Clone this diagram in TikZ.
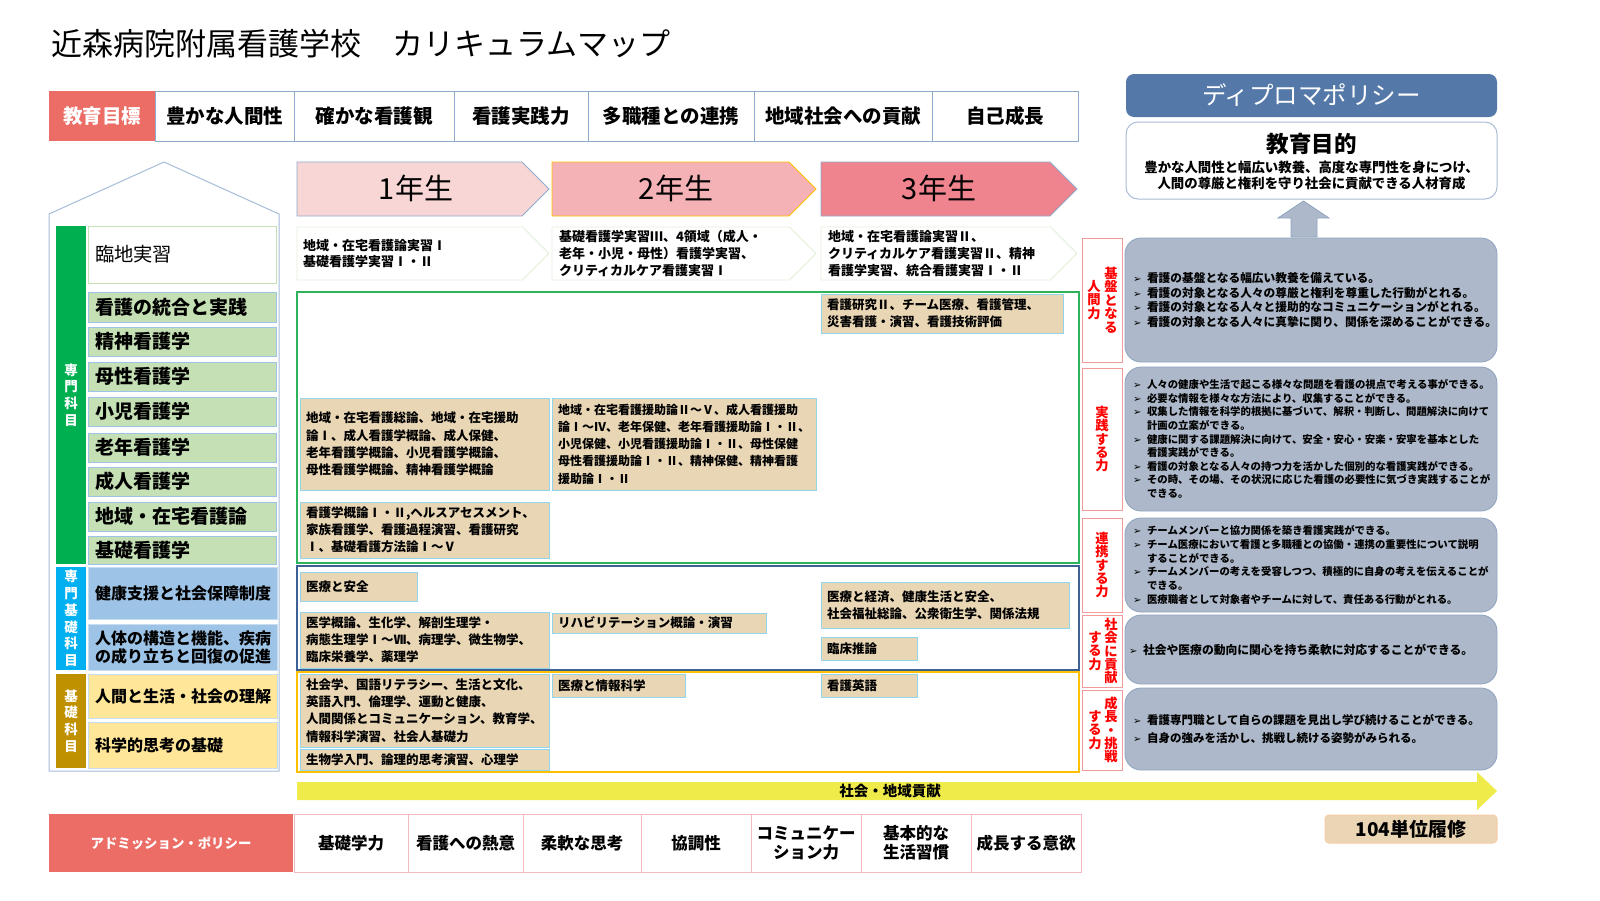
\documentclass[tikz,border=0pt]{standalone}
\usepackage{fontspec}
\setmainfont{Noto Sans CJK JP}
\newfontfamily\dvfont{DejaVu Sans}
\usetikzlibrary{fit,shapes.symbols}

\definecolor{goalred}{HTML}{EC6D66}
\definecolor{goalline}{HTML}{8FAACC}
\definecolor{dpblue}{HTML}{5479A9}
\definecolor{aimline}{HTML}{A9BCD6}
\definecolor{greyfill}{HTML}{ADB9CA}
\definecolor{greyline}{HTML}{8EA3BF}
\definecolor{houseline}{HTML}{A6BCD8}
\definecolor{catgreen}{HTML}{00B050}
\definecolor{catblue}{HTML}{00B0F0}
\definecolor{catgold}{HTML}{BF9000}
\definecolor{subjgreen}{HTML}{C5E0B4}
\definecolor{subjblue}{HTML}{9DC3E6}
\definecolor{subjyellow}{HTML}{FFE699}
\definecolor{subjline}{HTML}{9DC3E6}
\definecolor{subjline2}{HTML}{C9DDF1}
\definecolor{yonefill}{HTML}{F9D6D6}
\definecolor{ytwofill}{HTML}{F4B2B6}
\definecolor{ythreefill}{HTML}{EF848E}
\definecolor{yearline}{HTML}{8FAACC}
\definecolor{ytwoline}{HTML}{FFC000}
\definecolor{practline}{HTML}{E2EFDA}
\definecolor{frgreen}{HTML}{2DB35A}
\definecolor{frblue}{HTML}{3F6296}
\definecolor{frorange}{HTML}{FFC000}
\definecolor{tanfill}{HTML}{E8D6B4}
\definecolor{tanline}{HTML}{92D4EA}
\definecolor{labred}{HTML}{FF0000}
\definecolor{labline}{HTML}{F29B9B}
\definecolor{arrowyellow}{HTML}{EFEB4B}
\definecolor{admline}{HTML}{F4B9C0}
\definecolor{unitfill}{HTML}{EAD6B5}
\definecolor{unitline}{HTML}{F6CBA8}

\newcommand\fsz[2]{\fontsize{#1}{#2}\selectfont}
\newcommand\blt{\makebox[14pt][l]{\dvfont\fsz{10}{10}➢}}
\newcommand\contind{\hspace*{14pt}}

\begin{document}
\begin{tikzpicture}[x=1pt, y=-1pt,
	every node/.style={inner sep=0pt, outer sep=0pt},
	goalbox/.style={draw=goalline, fill=white, line width=0.8pt},
	goaltext/.style={font=\fsz{19.5}{22}\bfseries},
	redhead/.style={fill=goalred},
	whitetext/.style={text=white, font=\fsz{19.5}{22}\bfseries},
	cattext/.style={text=white, align=center, font=\fsz{13.5}{16.7}\bfseries},
	subj/.style={draw=subjline, fill=subjgreen, line width=0.8pt},
	subjs/.style={draw=subjline2, line width=0.8pt},
	subjtext/.style={anchor=west, align=left, font=\fsz{19}{22}\bfseries},
	subjstext/.style={anchor=west, align=left, font=\fsz{16}{18}\bfseries},
	yearbox/.style={signal, signal to=east, anchor=west, draw=yearline, line width=0.8pt, minimum height=54pt},
	yeartext/.style={font=\fsz{29}{32}},
	practbox/.style={signal, signal to=east, anchor=west, draw=practline, fill=white, line width=0.8pt, minimum height=53pt},
	practtext/.style={anchor=west, align=left, font=\fsz{13}{16.7}\bfseries},
	frame/.style={draw, line width=1.2pt},
	tan/.style={draw=tanline, fill=tanfill, line width=0.8pt},
	tantext/.style={anchor=west, align=left, font=\fsz{12.5}{17.2}\bfseries},
	labbox/.style={draw=labline, fill=white, line width=0.8pt},
	labtext/.style={text=labred, align=center, font=\fsz{13.3}{13.4}\bfseries},
	greybox/.style={draw=greyline, fill=greyfill, line width=0.8pt, rounded corners=16pt},
	greytext/.style={anchor=west, align=left},
	admbox/.style={draw=admline, fill=white, line width=0.8pt},
	admtext/.style={align=center, font=\fsz{16.5}{19.5}\bfseries},
]
	\useasboundingbox (0,0) rectangle (1600,900);

	% title
	\node[anchor=west, font=\fsz{31}{36}] (title) at (51,44) {近森病院附属看護学校　カリキュラムマップ};

	% educational goals
	\node[redhead, fit={(49,91) (155,141)}] (goal) {};
	\node[goalbox, fit={(155,91) (294,141)}] (goal1) {};
	\node[goalbox, fit={(294,91) (454,141)}] (goal2) {};
	\node[goalbox, fit={(454,91) (588,141)}] (goal3) {};
	\node[goalbox, fit={(588,91) (754,141)}] (goal4) {};
	\node[goalbox, fit={(754,91) (932,141)}] (goal5) {};
	\node[goalbox, fit={(932,91) (1078,141)}] (goal6) {};
	\node[whitetext] (goaltxt) at (goal.center) {教育目標};
	\node[goaltext] (goal1txt) at (goal1.center) {豊かな人間性};
	\node[goaltext] (goal2txt) at (goal2.center) {確かな看護観};
	\node[goaltext] (goal3txt) at (goal3.center) {看護実践力};
	\node[goaltext] (goal4txt) at (goal4.center) {多職種との連携};
	\node[goaltext] (goal5txt) at (goal5.center) {地域社会への貢献};
	\node[goaltext] (goal6txt) at (goal6.center) {自己成長};

	% diploma policy
	\node[fill=dpblue, rounded corners=8pt, fit={(1126,74) (1497,117)}] (dp) {};
	\node[text=white, font=\fsz{24.5}{28}] (dptxt) at (dp.center) {ディプロマポリシー};
	\node[draw=aimline, fill=white, line width=1pt, rounded corners=12pt, fit={(1126,122) (1497,199)}] (aim) {};
	\node[font=\fsz{22.5}{26}\bfseries] (aimhead) at (1311.5,144) {教育目的};
	\node[align=center, font=\fsz{13.4}{15.5}\bfseries] (aimtext) at (1311.5,175.5) {豊かな人間性と幅広い教養、高度な専門性を身につけ、\\人間の尊厳と権利を守り社会に貢献できる人材育成};
	\filldraw[fill=greyfill, draw=greyline, line width=0.8pt] (1291,237) -- (1291,218) -- (1278,218) -- (1303.5,201) -- (1329,218) -- (1317,218) -- (1317,237) -- cycle;

	% house of subjects
	\draw[houseline, line width=1pt] (49,771) -- (49,214) -- (164,162) -- (279,214) -- (279,771) -- cycle;
	\node[fill=catgreen, fit={(56,226) (86,564)}] (cat1) {};
	\node[fill=catblue, fit={(56,567) (86,670)}] (cat2) {};
	\node[fill=catgold, fit={(56,674) (86,768)}] (cat3) {};
	\node[cattext] (cat1txt) at (cat1.center) {専\\門\\科\\目};
	\node[cattext] (cat2txt) at (cat2.center) {専\\門\\基\\礎\\科\\目};
	\node[cattext] (cat3txt) at (cat3.center) {基\\礎\\科\\目};

	\node[subj, draw=subjgreen, fill=white, fit={(88,226) (276,283)}] (subj0) {};
	\node[subj, fit={(88,292) (276,322)}] (subj1) {};
	\node[subj, fit={(88,327) (276,356)}] (subj2) {};
	\node[subj, fit={(88,362) (276,391)}] (subj3) {};
	\node[subj, fit={(88,397) (276,426)}] (subj4) {};
	\node[subj, fit={(88,433) (276,462)}] (subj5) {};
	\node[subj, fit={(88,467) (276,496)}] (subj6) {};
	\node[subj, fit={(88,502) (276,531)}] (subj7) {};
	\node[subj, fit={(88,536) (276,564)}] (subj8) {};
	\node[subjs, fill=subjblue, fit={(88,567) (277,619)}] (subj9) {};
	\node[subjs, fill=subjblue, fit={(88,624) (277,670)}] (subj10) {};
	\node[subjs, fill=subjyellow, fit={(88,674) (277,718)}] (subj11) {};
	\node[subjs, fill=subjyellow, fit={(88,722) (277,768)}] (subj12) {};
	\node[subjtext, font=\fsz{19.3}{22}] (subj0txt) at ([xshift=7pt]subj0.west) {臨地実習};
	\node[subjtext] (subj1txt) at ([xshift=7pt]subj1.west) {看護の統合と実践};
	\node[subjtext] (subj2txt) at ([xshift=7pt]subj2.west) {精神看護学};
	\node[subjtext] (subj3txt) at ([xshift=7pt]subj3.west) {母性看護学};
	\node[subjtext] (subj4txt) at ([xshift=7pt]subj4.west) {小児看護学};
	\node[subjtext] (subj5txt) at ([xshift=7pt]subj5.west) {老年看護学};
	\node[subjtext] (subj6txt) at ([xshift=7pt]subj6.west) {成人看護学};
	\node[subjtext] (subj7txt) at ([xshift=7pt]subj7.west) {地域・在宅看護論};
	\node[subjtext] (subj8txt) at ([xshift=7pt]subj8.west) {基礎看護学};
	\node[subjstext] (subj9txt) at ([xshift=7pt]subj9.west) {健康支援と社会保障制度};
	\node[subjstext] (subj10txt) at ([xshift=7pt]subj10.west) {人体の構造と機能、疾病\\の成り立ちと回復の促進};
	\node[subjstext] (subj11txt) at ([xshift=7pt]subj11.west) {人間と生活・社会の理解};
	\node[subjstext] (subj12txt) at ([xshift=7pt]subj12.west) {科学的思考の基礎};

	% school years
	\node[yearbox, fill=yonefill, minimum width=252pt] (year1) at (297,189) {};
	\node[yearbox, fill=ytwofill, draw=ytwoline, minimum width=264pt] (year2) at (552,189) {};
	\node[yearbox, fill=ythreefill, minimum width=256pt] (year3) at (821,189) {};
	\node[yeartext] (year1txt) at (416,188) {1年生};
	\node[yeartext] (year2txt) at (676,188) {2年生};
	\node[yeartext] (year3txt) at (939,188) {3年生};

	% clinical practice
	\node[practbox, minimum width=252pt] (pract1) at (297,253.5) {};
	\node[practbox, minimum width=264pt] (pract2) at (552,253.5) {};
	\node[practbox, minimum width=256pt] (pract3) at (821,253.5) {};
	\node[practtext] (pract1txt) at ([xshift=6pt]pract1.west) {地域・在宅看護論実習Ⅰ\\基礎看護学実習Ⅰ・Ⅱ};
	\node[practtext] (pract2txt) at ([xshift=7pt]pract2.west) {基礎看護学実習Ⅲ、4領域（成人・\\老年・小児・母性）看護学実習、\\クリティカルケア看護実習Ⅰ};
	\node[practtext] (pract3txt) at ([xshift=7pt]pract3.west) {地域・在宅看護論実習Ⅱ、\\クリティカルケア看護実習Ⅱ、精神\\看護学実習、統合看護実習Ⅰ・Ⅱ};

	% subject groups
	\node[frame, draw=frgreen, fit={(297,292) (1079,563)}] (grpspec) {};
	\node[frame, draw=frblue, fit={(297,566) (1079,670)}] (grpbase) {};
	\node[frame, draw=frorange, fit={(297,672) (1079,772)}] (grpgen) {};

	\node[tan, fit={(300,398) (549,490)}] (tan1) {};
	\node[tan, fit={(300,502) (549,558)}] (tan2) {};
	\node[tan, fit={(300,572) (417,601)}] (tan3) {};
	\node[tan, fit={(300,612) (549,668)}] (tan4) {};
	\node[tan, fit={(300,674) (549,747)}] (tan5) {};
	\node[tan, fit={(300,749) (549,770)}] (tan6) {};
	\node[tan, fit={(821,294) (1063,333)}] (tan7) {};
	\node[tan, fit={(552,398) (816,490)}] (tan8) {};
	\node[tan, fit={(552,613) (766,633)}] (tan9) {};
	\node[tan, fit={(821,582) (1069,628)}] (tan10) {};
	\node[tan, fit={(821,637) (917,660)}] (tan11) {};
	\node[tan, fit={(552,674) (685,697)}] (tan12) {};
	\node[tan, fit={(821,674) (917,697)}] (tan13) {};
	\node[tantext] (tan1txt) at ([xshift=6pt]tan1.west) {地域・在宅看護総論、地域・在宅援助\\論Ⅰ、成人看護学概論、成人保健、\\老年看護学概論、小児看護学概論、\\母性看護学概論、精神看護学概論};
	\node[tantext] (tan2txt) at ([xshift=6pt]tan2.west) {看護学概論Ⅰ・Ⅱ,ヘルスアセスメント、\\家族看護学、看護過程演習、看護研究\\Ⅰ、基礎看護方法論Ⅰ～Ⅴ};
	\node[tantext] (tan3txt) at ([xshift=6pt]tan3.west) {医療と安全};
	\node[tantext] (tan4txt) at ([xshift=6pt]tan4.west) {医学概論、生化学、解剖生理学・\\病態生理学Ⅰ～Ⅶ、病理学、微生物学、\\臨床栄養学、薬理学};
	\node[tantext] (tan5txt) at ([xshift=6pt]tan5.west) {社会学、国語リテラシー、生活と文化、\\英語入門、倫理学、運動と健康、\\人間関係とコミュニケーション、教育学、\\情報科学演習、社会人基礎力};
	\node[tantext] (tan6txt) at ([xshift=6pt]tan6.west) {生物学入門、論理的思考演習、心理学};
	\node[tantext] (tan7txt) at ([xshift=6pt]tan7.west) {看護研究Ⅱ、チーム医療、看護管理、\\災害看護・演習、看護技術評価};
	\node[tantext, font=\fsz{12}{17.2}\bfseries] (tan8txt) at ([xshift=6pt]tan8.west) {地域・在宅看護援助論Ⅱ～Ⅴ、成人看護援助\\論Ⅰ～Ⅳ、老年保健、老年看護援助論Ⅰ・Ⅱ、\\小児保健、小児看護援助論Ⅰ・Ⅱ、母性保健\\母性看護援助論Ⅰ・Ⅱ、精神保健、精神看護\\援助論Ⅰ・Ⅱ};
	\node[tantext] (tan9txt) at ([xshift=6pt]tan9.west) {リハビリテーション概論・演習};
	\node[tantext] (tan10txt) at ([xshift=6pt]tan10.west) {医療と経済、健康生活と安全、\\社会福祉総論、公衆衛生学、関係法規};
	\node[tantext] (tan11txt) at ([xshift=6pt]tan11.west) {臨床推論};
	\node[tantext] (tan12txt) at ([xshift=6pt]tan12.west) {医療と情報科学};
	\node[tantext] (tan13txt) at ([xshift=6pt]tan13.west) {看護英語};

	% abilities
	\node[labbox, fit={(1082,238) (1122,362)}] (lab1) {};
	\node[labtext] (lab1a) at (1111,300) {基\\盤\\と\\な\\る};
	\node[labtext] (lab1b) at (1094,300) {人\\間\\力};
	\node[labbox, fit={(1082,368) (1122,510)}] (lab2) {};
	\node[labtext] (lab2a) at (lab2.center) {実\\践\\す\\る\\力};
	\node[labbox, fit={(1082,518) (1122,612)}] (lab3) {};
	\node[labtext] (lab3a) at (lab3.center) {連\\携\\す\\る\\力};
	\node[labbox, fit={(1082,615) (1122,687)}] (lab4) {};
	\node[labtext] (lab4a) at (1111,651) {社\\会\\に\\貢\\献};
	\node[labtext] (lab4b) at (1095,651) {す\\る\\力};
	\node[labbox, fit={(1082,690) (1122,770)}] (lab5) {};
	\node[labtext] (lab5a) at (1111,730) {成\\長\\・\\挑\\戦};
	\node[labtext] (lab5b) at (1095,730) {す\\る\\力};

	\node[greybox, fit={(1125,238) (1497,362)}] (dp1) {};
	\node[greybox, fit={(1125,367) (1497,511)}] (dp2) {};
	\node[greybox, fit={(1125,518) (1497,612)}] (dp3) {};
	\node[greybox, fit={(1125,615) (1497,684)}] (dp4) {};
	\node[greybox, fit={(1125,688) (1497,770)}] (dp5) {};
	\node[greytext, font=\fsz{11.7}{14.7}\bfseries] (dp1txt) at (1133,300) {\blt 看護の基盤となる幅広い教養を備えている。\\\blt 看護の対象となる人々の尊厳と権利を尊重した行動がとれる。\\\blt 看護の対象となる人々と援助的なコミュニケーションがとれる。\\\blt 看護の対象となる人々に真摯に関り、関係を深めることができる。};
	\node[greytext, font=\fsz{10.4}{13.6}\bfseries] (dp2txt) at (1133,439) {\blt 人々の健康や生活で起こる様々な問題を看護の視点で考える事ができる。\\\blt 必要な情報を様々な方法により、収集することができる。\\\blt 収集した情報を科学的根拠に基づいて、解釈・判断し、問題解決に向けて\\\contind 計画の立案ができる。\\\blt 健康に関する課題解決に向けて、安全・安心・安楽・安寧を基本とした\\\contind 看護実践ができる。\\\blt 看護の対象となる人々の持つ力を活かした個別的な看護実践ができる。\\\blt その時、その場、その状況に応じた看護の必要性に気づき実践することが\\\contind できる。};
	\node[greytext, font=\fsz{10.4}{13.7}\bfseries] (dp3txt) at (1133,565) {\blt チームメンバーと協力関係を築き看護実践ができる。\\\blt チーム医療において看護と多職種との協働・連携の重要性について説明\\\contind することができる。\\\blt チームメンバーの考えを受容しつつ、積極的に自身の考えを伝えることが\\\contind できる。\\\blt 医療職者として対象者やチームに対して、責任ある行動がとれる。};
	\node[greytext, font=\fsz{11.8}{14.7}\bfseries] (dp4txt) at (1129,649.5) {\blt 社会や医療の動向に関心を持ち柔軟に対応することができる。};
	\node[greytext, font=\fsz{11.5}{17.3}\bfseries] (dp5txt) at (1133,729) {\blt 看護専門職として自らの課題を見出し学び続けることができる。\\\blt 自身の強みを活かし、挑戦し続ける姿勢がみられる。};

	% community contribution
	\fill[arrowyellow] (297,782) -- (1477,782) -- (1477,772) -- (1497,791) -- (1477,810) -- (1477,800) -- (297,800) -- cycle;
	\node[font=\fsz{14.5}{16}\bfseries] (commu) at (890,791) {社会・地域貢献};
	\node[draw=unitline, fill=unitfill, line width=1pt, rounded corners=4pt, fit={(1325,815) (1497,843)}] (units) {};
	\node[font=\fsz{19}{22}\bfseries] (unitstxt) at (units.center) {104単位履修};

	% admission policy
	\node[redhead, fit={(49,814) (293,872)}] (adm) {};
	\node[admbox, fit={(294,814) (408,872)}] (adm1) {};
	\node[admbox, fit={(408,814) (523,872)}] (adm2) {};
	\node[admbox, fit={(523,814) (641,872)}] (adm3) {};
	\node[admbox, fit={(641,814) (751,872)}] (adm4) {};
	\node[admbox, fit={(751,814) (861,872)}] (adm5) {};
	\node[admbox, fit={(861,814) (971,872)}] (adm6) {};
	\node[admbox, fit={(971,814) (1081,872)}] (adm7) {};
	\node[whitetext, font=\fsz{13.4}{16}\bfseries] (admtxt) at (adm.center) {アドミッション・ポリシー};
	\node[admtext] (adm1txt) at (adm1.center) {基礎学力};
	\node[admtext] (adm2txt) at (adm2.center) {看護への熱意};
	\node[admtext] (adm3txt) at (adm3.center) {柔軟な思考};
	\node[admtext] (adm4txt) at (adm4.center) {協調性};
	\node[admtext] (adm5txt) at (adm5.center) {コミュニケー\\ション力};
	\node[admtext] (adm6txt) at (adm6.center) {基本的な\\生活習慣};
	\node[admtext] (adm7txt) at (adm7.center) {成長する意欲};
\end{tikzpicture}
\end{document}
